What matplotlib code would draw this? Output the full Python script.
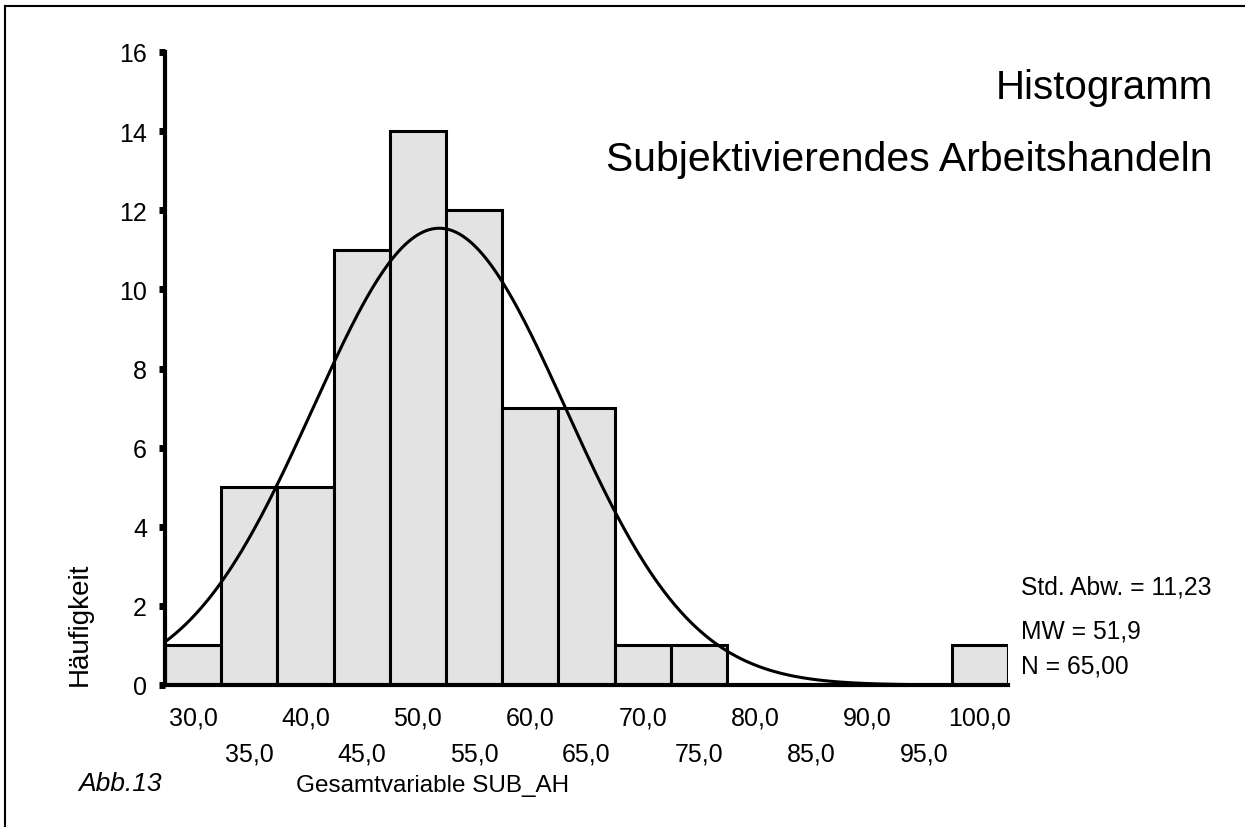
import numpy as np
import matplotlib.pyplot as plt

plt.rcParams['font.family'] = ['Liberation Sans', 'DejaVu Sans']

# Klassenmitten und Häufigkeiten
bin_centers = [30, 35, 40, 45, 50, 55, 60, 65, 70, 75, 80, 85, 90, 95, 100]
counts = [1, 5, 5, 11, 14, 12, 7, 7, 1, 1, 0, 0, 0, 0, 1]
bin_width = 5

# Kennwerte (wie in der Grafik angegeben)
mw = 51.9
std_abw = 11.23
n = 65

row1_ticks = [30, 40, 50, 60, 70, 80, 90, 100]
row2_ticks = [35, 45, 55, 65, 75, 85, 95]
y_ticks = [0, 2, 4, 6, 8, 10, 12, 14, 16]

W, H = 1245, 828
fig = plt.figure(figsize=(W / 100, H / 100), dpi=100)
ax = fig.add_axes([165 / W, 1 - 686 / H, 843 / W, 633 / H])

ax.bar(bin_centers, counts, width=bin_width, color='#e3e3e3',
       edgecolor='black', linewidth=2.2, zorder=2)

# Normalverteilungskurve
xs = np.linspace(27.5, 102.5, 500)
dens = np.exp(-0.5 * ((xs - mw) / std_abw) ** 2) / (std_abw * np.sqrt(2 * np.pi))
ax.plot(xs, dens * n * bin_width, color='black', linewidth=2.2, zorder=3)

ax.set_xlim(27.5, 102.5)
ax.set_ylim(0, 16)

for s in ['top', 'right']:
    ax.spines[s].set_visible(False)
ax.spines['left'].set_linewidth(3)
ax.spines['bottom'].set_linewidth(3)
ax.spines['bottom'].set_zorder(4)

ax.set_yticks(y_ticks)
ax.set_yticklabels([str(v) for v in y_ticks])
ax.tick_params(axis='y', direction='out', length=4, width=5, pad=9, labelsize=18)

ax.set_xticks(row1_ticks)
ax.set_xticklabels([f'{v},0' for v in row1_ticks])
ax.set_xticks(row2_ticks, minor=True)
ax.set_xticklabels([f'{v},0' for v in row2_ticks], minor=True)
ax.tick_params(axis='x', which='major', length=0, pad=15, labelsize=18)
ax.tick_params(axis='x', which='minor', length=0, pad=41, labelsize=18)

# Texte
fig.text(1213 / W, 1 - 88 / H, 'Histogramm', ha='right', va='center', fontsize=29)
fig.text(1213 / W, 1 - 160 / H, 'Subjektivierendes Arbeitshandeln',
         ha='right', va='center', fontsize=29.5)
fig.text(1021 / W, 1 - 588 / H, 'Std. Abw. = 11,23', ha='left', va='center', fontsize=17.7)
fig.text(1021 / W, 1 - 632 / H, 'MW = 51,9', ha='left', va='center', fontsize=17.7)
fig.text(1021 / W, 1 - 667 / H, 'N = 65,00', ha='left', va='center', fontsize=17.7)
fig.text(80 / W, 1 - 686 / H, 'Häufigkeit', rotation=90, ha='center', va='bottom', fontsize=20)
fig.text(296 / W, 1 - 786 / H, 'Gesamtvariable SUB_AH', ha='left', va='center', fontsize=17.5)
fig.text(78 / W, 1 - 784 / H, 'Abb.13', ha='left', va='center', fontsize=19, style='italic')

# Rahmen oben und links
fig.add_artist(plt.Line2D([5 / W, 5 / W], [0, 1 - 7 / H], color='black', linewidth=1.5,
                          transform=fig.transFigure))
fig.add_artist(plt.Line2D([5 / W, 1], [1 - 7 / H, 1 - 7 / H], color='black', linewidth=1.5,
                          transform=fig.transFigure))

fig.savefig('out.png', dpi=100)
